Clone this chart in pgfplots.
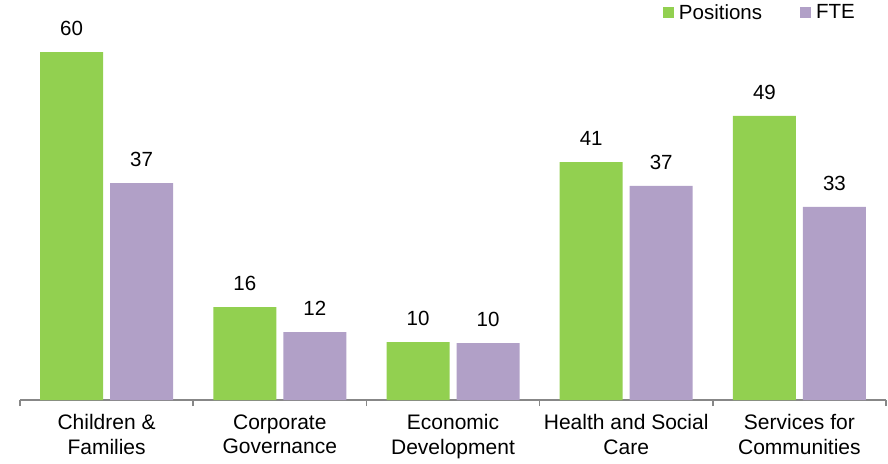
\documentclass[border=0pt]{standalone}
\usepackage{pgfplots}
\pgfplotsset{compat=1.18}
\usepackage{fontspec}
\setmainfont{Liberation Sans}
\definecolor{posgreen}{HTML}{92D050}
\definecolor{ftepurple}{HTML}{B1A0C7}
\definecolor{axisgray}{HTML}{878787}
\begin{document}
\begin{tikzpicture}
\useasboundingbox (-20pt,-63pt) rectangle (868pt,400pt);
\begin{axis}[
  at={(0pt,0pt)}, anchor=south west,
  scale only axis, width=866pt, height=400pt,
  xmin=-0.5, xmax=4.5, ymin=0, ymax=68.97,
  axis y line=none, axis x line*=bottom,
  x axis line style={axisgray, line width=1.5pt},
  ybar=7pt, bar width=63pt,
  xtick={0,1,2,3,4},
  xticklabels={{Children \&\\Families},{Corporate\\Governance},{Economic\\Development},{Health and Social\\Care},{Services for\\Communities}},
  tick style={axisgray, line width=1.5pt},
  major tick length=0pt,
  extra x ticks={-0.5,0.5,1.5,2.5,3.5,4.5},
  extra x tick labels={},
  extra x tick style={major tick length=6pt, tick align=outside},
  xticklabel style={font=\fontsize{21}{24.5}\selectfont, align=center, yshift=-11pt},
  nodes near coords,
  nodes near coords style={font=\fontsize{20.5}{24}\selectfont, yshift=13pt, text=black},
  /pgf/number format/.cd, fixed, precision=0, assume math mode=true, /pgfplots/.cd,
  legend style={draw=none, fill=none, at={(0.97,1)}, anchor=north east,
    font=\fontsize{20.5}{24}\selectfont, legend columns=2,
    /tikz/every odd column/.append style={column sep=3pt},
    /tikz/every even column/.append style={column sep=36pt}},
  legend cell align=left,
  clip=false,
]
\addplot[fill=posgreen, draw=none, legend image code/.code={\fill[posgreen] (0pt,-5.5pt) rectangle (11pt,5.5pt);}] coordinates {(0,60) (1,16) (2,10) (3,41) (4,49)};
\addplot[fill=ftepurple, draw=none, legend image code/.code={\fill[ftepurple] (0pt,-5.5pt) rectangle (11pt,5.5pt);}] coordinates {(0,37.4) (1,11.7) (2,9.8) (3,36.9) (4,33.3)};
\legend{Positions,FTE}
\end{axis}
\end{tikzpicture}
\end{document}
